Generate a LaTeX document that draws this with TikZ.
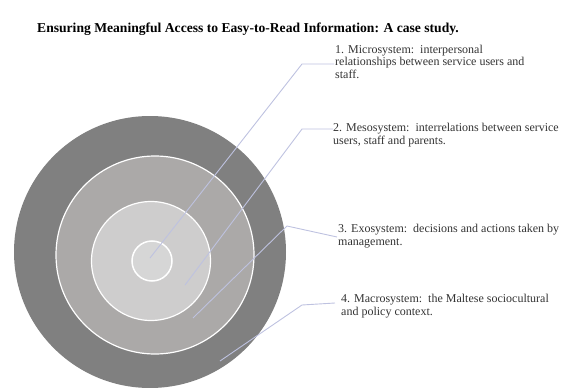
\documentclass[tikz,border=0pt]{standalone}
\usepackage{fontspec}
\setmainfont{Liberation Serif}
\begin{document}
\begin{tikzpicture}[x=1pt,y=-1pt,
    ring/.style={circle,inner sep=0pt,draw=white,line width=1.2pt},
    leader/.style={draw={rgb,255:red,190;green,194;blue,224},line width=0.9pt},
    label/.style={anchor=base west,align=left,inner sep=0pt,text=black!80,
      font=\fontsize{12}{12.5}\selectfont},
  ]
\useasboundingbox (0,0) rectangle (566,388);

\node[anchor=base west,inner sep=0pt,font=\fontsize{13.6}{16}\selectfont\bfseries]
  (title) at (37,32) {Ensuring Meaningful Access to Easy-to-Read Information: A case study.};

% the four nested systems
\node[ring,draw=none,fill={rgb,255:red,128;green,128;blue,128},minimum size=272pt] (macro) at (150,252) {};
\node[ring,fill={rgb,255:red,171;green,169;blue,168},minimum size=198pt] (exo) at (155,255) {};
\node[ring,fill={rgb,255:red,206;green,205;blue,205},minimum size=119pt] (meso) at (151,261) {};
\node[ring,fill={rgb,255:red,214;green,214;blue,214},minimum size=40pt,line width=1.5pt] (micro) at (152,261) {};

% labels, placed by the baseline of their last line
\node[label] (lab1) at (335,78) {1. Microsystem:\ \ interpersonal\\relationships between service users and\\staff.};
\node[label] (lab2) at (333,144) {2. Mesosystem:\ \ interrelations between service\\users, staff and parents.};
\node[label] (lab3) at (338,245) {3. Exosystem:\ \ decisions and actions taken by\\management.};
\node[label] (lab4) at (341,315) {4. Macrosystem:\ \ the Maltese sociocultural\\and policy context.};

\coordinate (p1) at (150,258);  \coordinate (k1) at (302,64);  \coordinate (e1) at (334,64);
\coordinate (p2) at (185,285);  \coordinate (k2) at (302,129); \coordinate (e2) at (333,129);
\coordinate (p3) at (193,318);  \coordinate (k3) at (287,226); \coordinate (e3) at (337,237);
\coordinate (p4) at (220,361);  \coordinate (k4) at (302,305); \coordinate (e4) at (335,303);

\foreach \i in {1,...,4}
  \draw[leader] (p\i) -- (k\i) -- (e\i);
\end{tikzpicture}
\end{document}
